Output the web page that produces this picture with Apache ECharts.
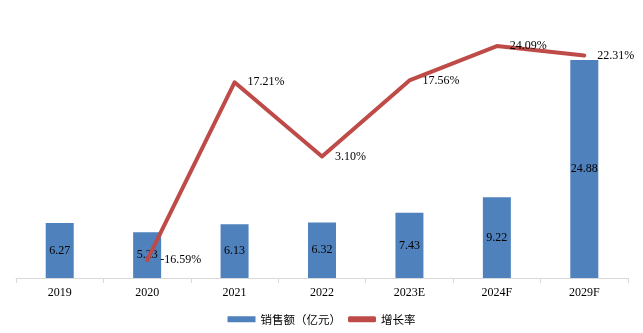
<!DOCTYPE html>
<html>
<head>
<meta charset="utf-8">
<script src="https://cdn.jsdelivr.net/npm/echarts@6/dist/echarts.min.js"></script>
<style>
  html, body { margin: 0; padding: 0; background: #fff; }
  #chart { width: 643px; height: 333px; }
</style>
</head>
<body>
<div id="chart"></div>
<script>
// Sales (100M CNY) and year-on-year growth rate
const years = ['2019', '2020', '2021', '2022', '2023E', '2024F', '2029F'];
const sales = [6.27, 5.23, 6.13, 6.32, 7.43, 9.22, 24.88];
const growth = [null, -16.59, 17.21, 3.10, 17.56, 24.09, 22.31];
const salesName = '销售额（亿元）';
const growthName = '增长率';

const serif = '"Liberation Serif", "Times New Roman", serif';
const cjk = '"Noto Sans CJK SC", sans-serif';

const chart = echarts.init(document.getElementById('chart'), null, { renderer: 'canvas' });
chart.setOption({
  animation: false,
  backgroundColor: '#ffffff',
  grid: { left: 16, right: 15, top: 15, bottom: 55 },
  legend: {
    bottom: 3,
    left: 'center',
    itemGap: 7,
    itemWidth: 28,
    itemHeight: 6,
    textStyle: { fontFamily: cjk, fontSize: 11.5, color: '#000' },
    data: [
      { name: salesName, icon: 'rect' },
      { name: growthName, icon: 'roundRect', itemStyle: { color: '#be4b48' } }
    ]
  },
  xAxis: {
    type: 'category',
    data: years,
    axisLine: { lineStyle: { color: '#d9d9d9', width: 1 } },
    axisTick: { show: true, length: 5, lineStyle: { color: '#d9d9d9' } },
    axisLabel: { fontFamily: serif, fontSize: 12, color: '#000', margin: 9 }
  },
  yAxis: [
    { type: 'value', min: 0, max: 30, show: false, splitLine: { show: false } },
    { type: 'value', min: -20, max: 30, show: false, splitLine: { show: false } }
  ],
  series: [
    {
      name: salesName,
      type: 'bar',
      data: sales,
      barWidth: 28,
      yAxisIndex: 0,
      itemStyle: { color: '#4f81bd' },
      label: {
        show: true,
        position: 'inside',
        fontFamily: serif,
        fontSize: 12,
        color: '#000'
      }
    },
    {
      name: growthName,
      type: 'line',
      data: growth,
      yAxisIndex: 1,
      symbol: 'circle',
      symbolSize: 2,
      showSymbol: true,
      z: 3,
      lineStyle: { color: '#be4b48', width: 4, join: 'round', cap: 'round' },
      itemStyle: { color: '#be4b48' },
      label: {
        show: true,
        position: 'right',
        distance: 12,
        fontFamily: serif,
        fontSize: 12,
        color: '#000',
        formatter: p => p.value.toFixed(2) + '%'
      }
    }
  ]
});
</script>
</body>
</html>
